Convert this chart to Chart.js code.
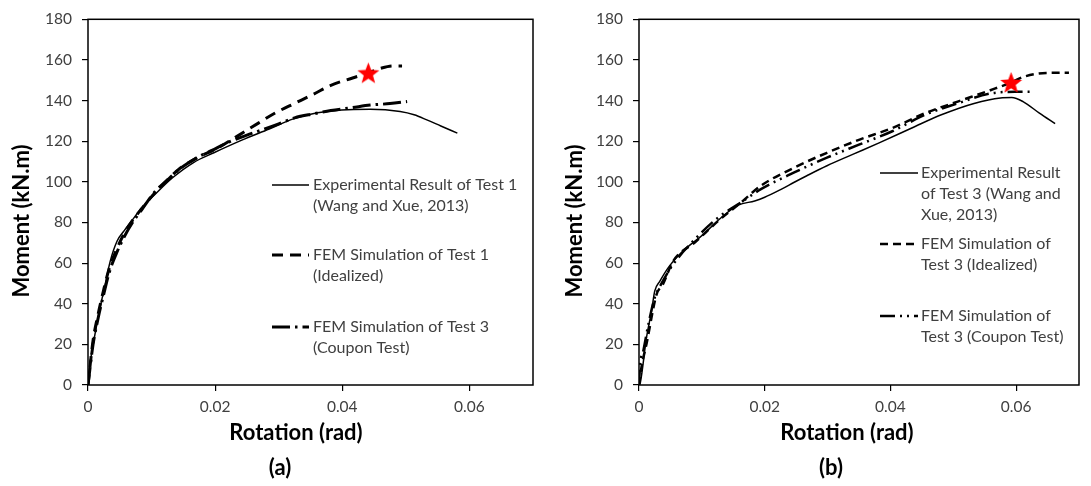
<!DOCTYPE html>
<html>
<head>
<meta charset="utf-8">
<script src="https://cdn.jsdelivr.net/npm/chart.js@4.4.1/dist/chart.umd.min.js"></script>
<style>
  html, body { margin: 0; padding: 0; background: #ffffff; }
  #wrap { position: relative; width: 1091px; height: 486px; overflow: hidden; }
  .panel { position: absolute; top: 0; height: 486px; }
</style>
</head>
<body>
<div id="wrap">
  <div class="panel" style="left:0;width:545px"><canvas id="chartA" width="545" height="486"></canvas></div>
  <div class="panel" style="left:545px;width:546px"><canvas id="chartB" width="546" height="486"></canvas></div>
</div>
<script>
// ---- axis ticks ----
const rotationTicks = [0, 0.02, 0.04, 0.06];
const rotationTickLabels = ['0', '0.02', '0.04', '0.06'];
const momentTicks = [0, 20, 40, 60, 80, 100, 120, 140, 160, 180];
const momentTickLabels = ['0', '20', '40', '60', '80', '100', '120', '140', '160', '180'];

// ---- panel (a): Test 1 ----
const expT1Rot = [0, 0.0004, 0.0011, 0.0019, 0.0027, 0.0035, 0.0046, 0.0057, 0.0068, 0.0084, 0.0106, 0.0133, 0.0166, 0.0198, 0.0242, 0.0285, 0.0323, 0.0361, 0.0399, 0.0444, 0.0491, 0.0513, 0.0533, 0.0555, 0.0581];
const expT1Moment = [0, 12, 25, 38, 49.5, 61, 71, 76, 80.5, 87, 94, 102, 109.5, 114.3, 120.5, 126, 131, 134, 135.4, 135.7, 134.6, 133, 130.5, 127.5, 124];

const femT1IdealRot = [0, 0.0008, 0.0016, 0.0024, 0.0033, 0.0044, 0.0056, 0.007, 0.0085, 0.0105, 0.0125, 0.0143, 0.017, 0.0205, 0.0235, 0.0268, 0.0295, 0.0325, 0.0355, 0.0382, 0.0415, 0.0441, 0.0462, 0.048, 0.0494];
const femT1IdealMoment = [0, 22, 35, 46, 57, 66, 74, 81, 87, 94.5, 101, 106.2, 111.5, 116.8, 122.5, 128.9, 134, 138.6, 143.2, 147.5, 151, 153.6, 156, 157, 157];

const femT3CouponARot = [0, 0.0008, 0.0016, 0.0025, 0.0034, 0.0045, 0.0057, 0.007, 0.0085, 0.0105, 0.0127, 0.0145, 0.0169, 0.0195, 0.0221, 0.025, 0.0278, 0.03, 0.0325, 0.0355, 0.0382, 0.0415, 0.0444, 0.0475, 0.0502];
const femT3CouponAMoment = [0, 20, 33, 45, 56, 65, 73, 80, 86.5, 95, 101.5, 106.5, 111.5, 115.5, 119.5, 123, 126, 128.5, 131.5, 133.5, 135.1, 136.5, 137.8, 138.5, 139.5];

const failureARot = [0.0441];
const failureAMoment = [153.6];

const legendA = [
  ['Experimental Result of Test 1', '(Wang and Xue, 2013)'],
  ['FEM Simulation of Test 1', '(Idealized)'],
  ['FEM Simulation of Test 3', '(Coupon Test)']
];

// ---- panel (b): Test 3 ----
const expT3Rot = [0, 0.0002, 0.0012, 0.002, 0.0025, 0.0033, 0.0048, 0.0069, 0.0101, 0.0132, 0.0158, 0.0184, 0.02, 0.0226, 0.0247, 0.0267, 0.0299, 0.034, 0.0382, 0.0434, 0.0481, 0.0533, 0.0575, 0.0593, 0.0611, 0.0637, 0.0662];
const expT3Moment = [0, 1, 23.5, 36.5, 46.2, 51, 58.4, 65.7, 73.8, 82.7, 88.5, 90.6, 92.4, 96.3, 99.8, 103, 107.9, 113.5, 119.2, 126.5, 133, 138.6, 141.3, 141.5, 139.5, 133.8, 128.6];

const femT3IdealRot = [0, 0.0004, 0.0012, 0.0028, 0.0038, 0.0054, 0.009, 0.0127, 0.0163, 0.0194, 0.0247, 0.0299, 0.0351, 0.0403, 0.0455, 0.0507, 0.0559, 0.0592, 0.0611, 0.0648, 0.0684];
const femT3IdealMoment = [0, 8.9, 20.3, 44.6, 49.5, 60.8, 70.5, 81, 90, 98.1, 107, 114.3, 120.8, 126.5, 133.8, 139.5, 145.1, 148.9, 151.6, 153.6, 153.7];

const femT3CouponBRot = [0, 0.0002, 0.0007, 0.0015, 0.0025, 0.0035, 0.0054, 0.009, 0.0127, 0.0163, 0.0194, 0.0247, 0.0299, 0.0351, 0.0403, 0.0455, 0.0507, 0.0559, 0.0598, 0.0623];
const femT3CouponBMoment = [0, 10.5, 17, 30, 43, 49.5, 59.2, 72.1, 82.7, 90, 96.4, 104.6, 111.9, 118.4, 124.9, 133, 138.6, 143.5, 144.3, 144.3];

const failureBRot = [0.0592];
const failureBMoment = [148.9];

const legendB = [
  ['Experimental Result', 'of Test 3 (Wang and', 'Xue, 2013)'],
  ['FEM Simulation of', 'Test 3 (Idealized)'],
  ['FEM Simulation of', 'Test 3 (Coupon Test)']
];

const xTitle = 'Rotation (rad)';
const yTitle = 'Moment (kN.m)';

// ---- helpers ----
function zip(xs, ys) { return xs.map((x, i) => ({ x: x, y: ys[i] })); }

function makeStar(size, color) {
  const c = document.createElement('canvas');
  c.width = size; c.height = size;
  const g = c.getContext('2d');
  const cx = size / 2, cy = size / 2 + 1, ro = size / 2, ri = ro * 0.42;
  g.beginPath();
  for (let k = 0; k < 10; k++) {
    const r = k % 2 === 0 ? ro : ri;
    const a = -Math.PI / 2 + k * Math.PI / 5;
    const px = cx + r * Math.cos(a), py = cy + r * Math.sin(a);
    if (k === 0) g.moveTo(px, py); else g.lineTo(px, py);
  }
  g.closePath();
  g.fillStyle = color;
  g.fill();
  return c;
}
const starImg = makeStar(23, '#ff0000');

const FONT = 'Lato, "Open Sans", "DejaVu Sans", sans-serif';

function lineSet(label, xs, ys, dash, width) {
  return {
    label: label,
    data: zip(xs, ys),
    showLine: true,
    borderColor: '#000000',
    backgroundColor: '#000000',
    borderWidth: width,
    borderDash: dash,
    borderCapStyle: 'butt',
    pointRadius: 0,
    pointHoverRadius: 0,
    cubicInterpolationMode: 'monotone',
    fill: false
  };
}

function starSet(xs, ys) {
  return {
    label: 'failure',
    data: zip(xs, ys),
    showLine: false,
    pointStyle: starImg,
    pointRadius: 11,
    pointHoverRadius: 11,
    order: -1
  };
}

// frame, legend, titles and panel letter
const decorPlugin = {
  id: 'decor',
  afterDatasetsDraw(chart, args, o) {
    const ctx = chart.ctx, a = chart.chartArea;
    ctx.save();
    // box around the plot area
    ctx.setLineDash([]);
    ctx.strokeStyle = '#000000';
    ctx.lineWidth = 1.5;
    ctx.strokeRect(a.left, a.top, a.right - a.left, a.bottom - a.top);

    // legend
    ctx.font = '16px ' + FONT;
    ctx.fillStyle = '#404040';
    ctx.textBaseline = 'middle';
    ctx.textAlign = 'left';
    o.legend.forEach((lines, i) => {
      const ds = chart.data.datasets[i];
      const y0 = o.legendRows[i];
      ctx.save();
      ctx.strokeStyle = '#000000';
      ctx.lineWidth = ds.borderWidth;
      ctx.setLineDash(ds.borderDash || []);
      ctx.beginPath();
      ctx.moveTo(o.sampleX[0], y0);
      ctx.lineTo(o.sampleX[1], y0);
      ctx.stroke();
      ctx.restore();
      lines.forEach((t, k) => ctx.fillText(t, o.textX, y0 + k * o.lineH));
    });

    // axis titles
    ctx.fillStyle = '#000000';
    ctx.font = 'bold 22px ' + FONT;
    ctx.textAlign = 'center';
    ctx.fillText(xTitle, o.xTitlePos[0], o.xTitlePos[1]);
    ctx.save();
    ctx.translate(o.yTitlePos[0], o.yTitlePos[1]);
    ctx.rotate(-Math.PI / 2);
    ctx.fillText(yTitle, 0, 0);
    ctx.restore();
    ctx.fillText(o.panel, o.panelPos[0], o.panelPos[1]);
    ctx.restore();
  }
};

function buildChart(id, sets, cfg) {
  return new Chart(document.getElementById(id), {
    type: 'scatter',
    data: { datasets: sets },
    plugins: [decorPlugin],
    options: {
      responsive: false,
      animation: false,
      devicePixelRatio: 1,
      layout: { padding: { top: 15, right: cfg.padRight, bottom: 0, left: 0 } },
      plugins: {
        legend: { display: false },
        tooltip: { enabled: false },
        decor: cfg.decor
      },
      scales: {
        x: {
          type: 'linear',
          min: 0,
          max: 0.07,
          afterBuildTicks(s) { s.ticks = rotationTicks.map(v => ({ value: v })); },
          afterFit(s) { s.height = 101; },
          ticks: {
            callback: (v, i) => rotationTickLabels[i],
            color: '#404040',
            font: { family: FONT, size: 15.5 },
            padding: 7,
            maxRotation: 0,
            autoSkip: false
          },
          grid: { display: true, drawOnChartArea: false, drawTicks: true, tickLength: 6, color: '#000000', lineWidth: 1.2 },
          border: { display: false }
        },
        y: {
          type: 'linear',
          min: 0,
          max: 180,
          afterBuildTicks(s) { s.ticks = momentTicks.map(v => ({ value: v })); },
          afterFit(s) { s.width = cfg.yWidth; },
          ticks: {
            callback: (v, i) => momentTickLabels[i],
            color: '#404040',
            font: { family: FONT, size: 15.5 },
            padding: 10,
            autoSkip: false
          },
          grid: { display: true, drawOnChartArea: false, drawTicks: true, tickLength: 6, color: '#000000', lineWidth: 1.2 },
          border: { display: false }
        }
      }
    }
  });
}

buildChart('chartA', [
  lineSet(legendA[0].join(' '), expT1Rot, expT1Moment, [], 1.5),
  lineSet(legendA[1].join(' '), femT1IdealRot, femT1IdealMoment, [11, 7], 3),
  lineSet(legendA[2].join(' '), femT3CouponARot, femT3CouponAMoment, [18, 5, 2.5, 5], 3),
  starSet(failureARot, failureAMoment)
], {
  padRight: 8,
  yWidth: 88,
  decor: {
    legend: legendA,
    legendRows: [185, 255, 327],
    lineH: 21,
    sampleX: [272, 309],
    textX: 313,
    xTitlePos: [296, 433],
    yTitlePos: [22, 221],
    panel: '(a)',
    panelPos: [280, 468]
  }
});

buildChart('chartB', [
  lineSet(legendB[0].join(' '), expT3Rot, expT3Moment, [], 1.5),
  lineSet(legendB[1].join(' '), femT3IdealRot, femT3IdealMoment, [8, 5], 2.5),
  lineSet(legendB[2].join(' '), femT3CouponBRot, femT3CouponBMoment, [15, 5, 2, 5, 2, 5], 2.5),
  starSet(failureBRot, failureBMoment)
], {
  padRight: 3,
  yWidth: 94,
  decor: {
    legend: legendB,
    legendRows: [173, 244, 316],
    lineH: 21,
    sampleX: [335, 373],
    textX: 376,
    xTitlePos: [302, 433],
    yTitlePos: [30, 221],
    panel: '(b)',
    panelPos: [286, 468]
  }
});
</script>
</body>
</html>
